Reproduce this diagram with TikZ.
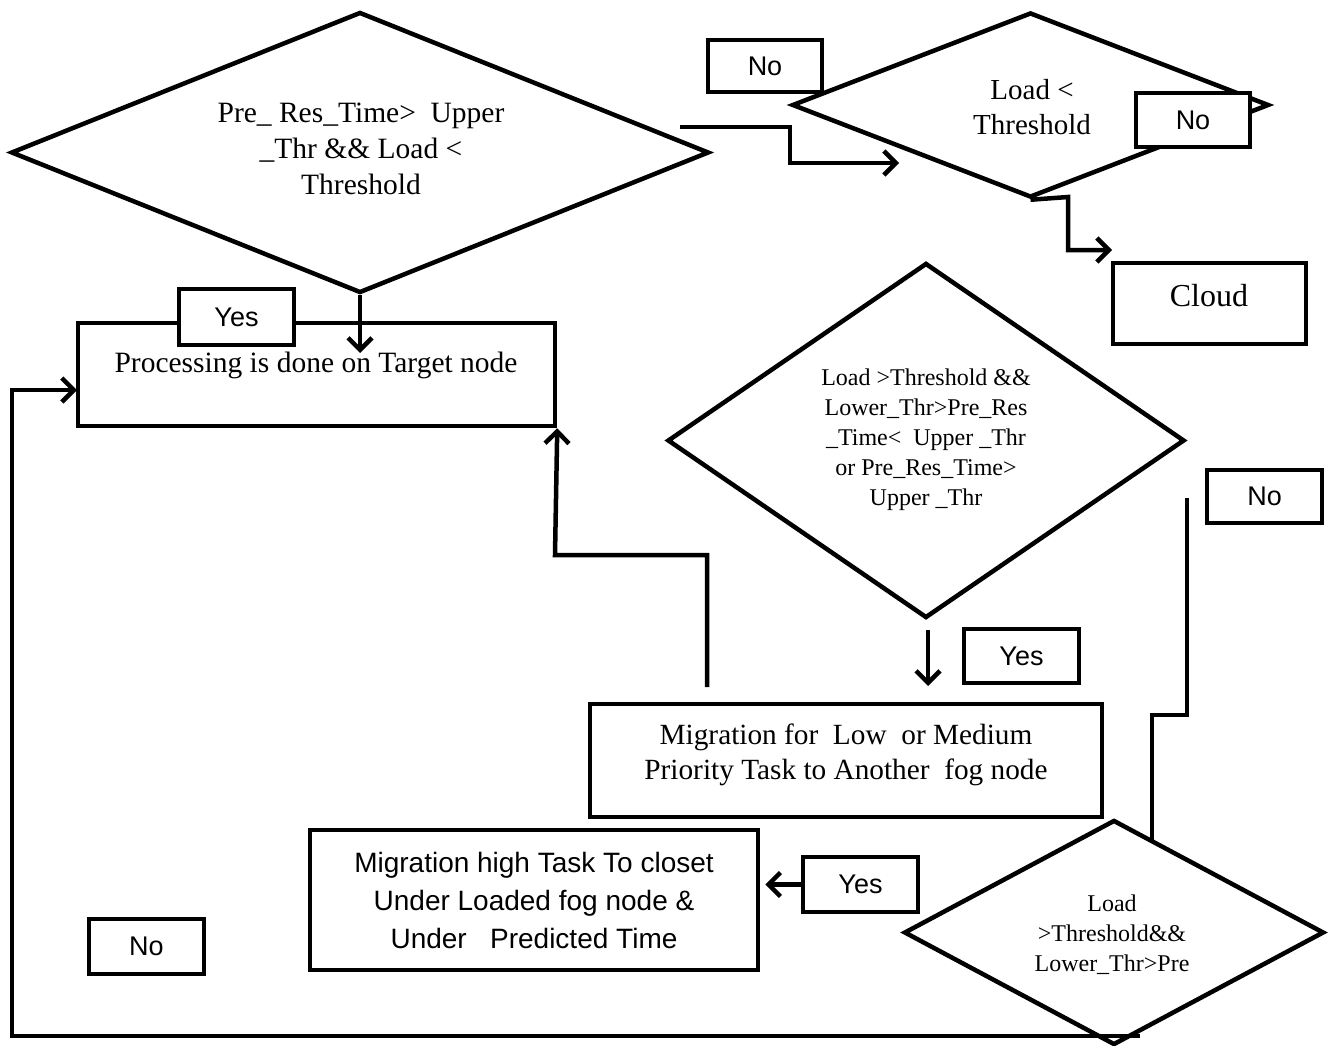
\documentclass[tikz,border=0pt]{standalone}
\usepackage{fontspec}
\setmainfont{Liberation Serif}
\newfontfamily\arialf{Liberation Sans}
\usetikzlibrary{shapes.geometric,arrows.meta}
\begin{document}
\begin{tikzpicture}[x=1pt,y=-1pt,line width=4.5pt,
  dia/.style={draw,diamond,inner sep=0pt,line join=miter},
  box/.style={draw,rectangle,inner sep=0pt,fill=white},
  lbl/.style={box,font=\arialf\fontsize{27}{32}\selectfont},
  serif/.style={align=center,inner sep=0pt},
  arr/.style={-{Straight Barb[length=12pt,width=24pt,line width=4.5pt]}},
  conn/.style={line join=miter}
]
\useasboundingbox (0,0) rectangle (1331,1046);
\fill[white] (0,0) rectangle (1331,1046);

% diamonds
\node[dia,minimum width=698pt,minimum height=281pt] (d1) at (360,152.5) {};
\node[serif,font=\fontsize{29.5}{36}\selectfont] at (361,149) {Pre\_ Res\_Time>\ \ Upper\\\_Thr \&\& Load <\\Threshold};

\node[dia,minimum width=477pt,minimum height=185pt] (d2) at (1030.5,105) {};
\node[serif,font=\fontsize{29}{35}\selectfont] at (1032,107) {Load <\\Threshold};

\node[dia,minimum width=517pt,minimum height=355pt] (d3) at (926,440.5) {};
\node[serif,font=\fontsize{24}{30}\selectfont] at (926,440) {Load >Threshold \&\&\\Lower\_Thr>Pre\_Res\\\_Time<\ \ Upper \_Thr\\or Pre\_Res\_Time>\\Upper \_Thr};

\node[dia,minimum width=420pt,minimum height=225pt] (d4) at (1114,932.5) {};
\node[serif,font=\fontsize{24}{30}\selectfont] at (1112,935) {Load\\>Threshold\&\&\\Lower\_Thr>Pre};

% boxes
\node[box,minimum width=477pt,minimum height=103pt] (proc) at (316.5,374.5) {};
\node[serif,font=\fontsize{29.5}{34}\selectfont] at (316,365) {Processing is done on Target node};

\node[box,minimum width=193pt,minimum height=81pt] (cloud) at (1209.5,303.5) {};
\node[serif,font=\fontsize{32}{36}\selectfont] at (1209,296) {Cloud};

\node[box,minimum width=512pt,minimum height=113pt] (mig1) at (846,760.5) {};
\node[serif,font=\fontsize{29.3}{35}\selectfont] at (846,754.5) {Migration for\ \ Low\ \ or Medium\\Priority Task to Another\ \ fog node};

\node[box,minimum width=448pt,minimum height=140pt] (mig2) at (534,900) {};
\node[serif,font=\arialf\fontsize{28}{38}\selectfont] at (534,900) {Migration high Task To closet\\Under Loaded fog node \&\\Under\ \ \ Predicted Time};

% labels
\node[lbl,minimum width=114pt,minimum height=52pt] (no1) at (765,66) {No};
\node[lbl,minimum width=114pt,minimum height=54pt] (no2) at (1193,120) {No};
\node[lbl,minimum width=115pt,minimum height=56pt] (yes1) at (236.5,317) {Yes};
\node[lbl,minimum width=115pt,minimum height=54pt] (yes2) at (1021.5,656) {Yes};
\node[lbl,minimum width=115pt,minimum height=53pt] (no3) at (1264.5,496.5) {No};
\node[lbl,minimum width=115pt,minimum height=55pt] (yes3) at (860.5,884.5) {Yes};
\node[lbl,minimum width=115pt,minimum height=55pt] (no4) at (146.5,946.5) {No};

% free ends
\coordinate (c1s) at (680,127);
\coordinate (c1e) at (899,163);
\coordinate (c2e) at (1112,250);
\coordinate (c3e) at (360,353);
\coordinate (c4s) at (707,687);
\coordinate (c5s) at (928,630);
\coordinate (c5e) at (928,686);
\coordinate (c6s) at (1187,498);
\coordinate (c6e) at (1152,840);
\coordinate (c8s) at (1140,1036);
\coordinate (c8e) at (77,390);

% connectors
\draw[conn,arr] (c1s) -- (790,127) -- (790,163) -- (c1e);
\draw[conn,arr] (d2.south) -- (1068,197) -- (1068,250) -- (c2e);
\draw[conn,arr] (d1.south) -- (c3e);
\draw[conn,arr] (c4s) -- (707,555) -- (555,555) -- (proc.south east);
\draw[conn,arr] (c5s) -- (c5e);
\draw[conn] (c6s) -- (1187,715) -- (1152,715) -- (c6e);
\draw[conn,arr] (yes3.west) -- ([xshift=5pt]yes3.west -| mig2.east);
\draw[conn,arr] (c8s) -- (12,1036) -- (12,390) -- (c8e);
\end{tikzpicture}
\end{document}
